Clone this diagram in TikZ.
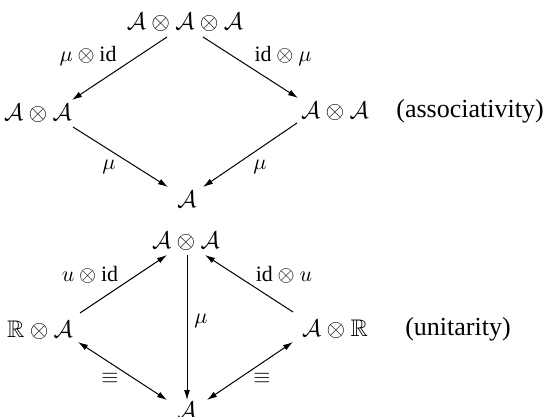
\documentclass[tikz,border=0pt]{standalone}
\usepackage{amssymb}
\usepackage{fontspec}
\setmainfont{Liberation Serif}
\usetikzlibrary{arrows.meta}
\tikzset{
  obj/.style={inner sep=0pt, font=\fontsize{12}{14}\selectfont},
  lab/.style={inner sep=0pt, font=\fontsize{10.95}{13}\selectfont},
  tag/.style={inner sep=0pt, font=\fontsize{13}{15}\selectfont},
  arr/.style={line width=0.5pt, -{Latex[length=5pt,width=3pt]}},
  darr/.style={line width=0.5pt, {Latex[length=5pt,width=3pt]}-{Latex[length=5pt,width=3pt]}}
}
\begin{document}
\begin{tikzpicture}[x=0.5pt,y=-0.5pt]
\useasboundingbox (0,0) rectangle (552,417);
% associativity
\node[obj] (T) at (185,22) {$\mathcal A\otimes\mathcal A\otimes\mathcal A$};
\node[obj] (L) at (38,113) {$\mathcal A\otimes\mathcal A$};
\node[obj] (R) at (335,111) {$\mathcal A\otimes\mathcal A$};
\node[obj] (B) at (187,199) {$\mathcal A$};
\node[tag] (assoc) at (470,111) {(associativity)};
\draw[arr] ([shift={(-18,15)}]T.center) -- ([shift={(34,-13)}]L.center);
\draw[arr] ([shift={(35,14)}]L.center) -- ([shift={(-19,-12)}]B.center);
\draw[arr] ([shift={(18,15)}]T.center) -- ([shift={(-37,-13)}]R.center);
\draw[arr] ([shift={(-38,12)}]R.center) -- ([shift={(16,-12)}]B.center);
\node[lab] (l1) at (88,56) {$\mu\otimes\mathrm{id}$};
\node[lab] (l2) at (283,56) {$\mathrm{id}\otimes\mu$};
\node[lab] (l3) at (109,167) {$\mu$};
\node[lab] (l4) at (260,167) {$\mu$};
% unitarity
\node[obj] (T2) at (186,241) {$\mathcal A\otimes\mathcal A$};
\node[obj] (L2) at (40,330) {$\mathbb R\otimes\mathcal A$};
\node[obj] (R2) at (335,329) {$\mathcal A\otimes\mathbb R$};
\node[obj] (B2) at (187,410) {$\mathcal A$};
\node[tag] (unit) at (458,329) {(unitarity)};
\draw[arr] ([shift={(40,-17)}]L2.center) -- ([shift={(-19,14)}]T2.center);
\draw[arr] ([shift={(-42,-17)}]R2.center) -- ([shift={(19,14)}]T2.center);
\draw[arr] ([shift={(1,14)}]T2.center) -- ([shift={(0,-10)}]B2.center);
\draw[darr] ([shift={(38,12)}]L2.center) -- ([shift={(-20,-10)}]B2.center);
\draw[darr] ([shift={(-42,13)}]R2.center) -- ([shift={(20,-10)}]B2.center);
\node[lab] (m1) at (90,275) {$u\otimes\mathrm{id}$};
\node[lab] (m2) at (284,275) {$\mathrm{id}\otimes u$};
\node[lab] (m3) at (201,321) {$\mu$};
\node[lab] (m4) at (110,378) {$\equiv$};
\node[lab] (m5) at (262,378) {$\equiv$};
\end{tikzpicture}
\end{document}
